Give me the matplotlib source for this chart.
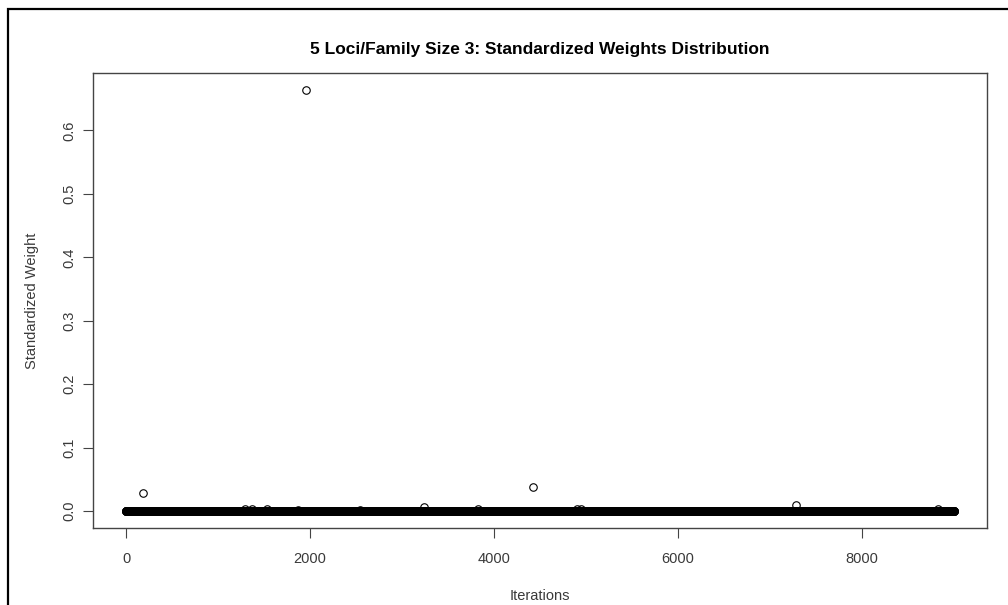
import numpy as np
import matplotlib
matplotlib.use("Agg")
import matplotlib.pyplot as plt
from matplotlib.patches import Rectangle

plt.rcParams['font.family'] = ['Liberation Sans', 'DejaVu Sans']

# iterations 1..9000, almost every standardized weight is ~0
n_iter = 9000
outlier_iter = [190, 1290, 1370, 1530, 1870, 1960, 2540, 3240, 3830,
                4420, 4900, 4950, 7280, 8830]
outlier_weight = [0.029, 0.003, 0.004, 0.003, 0.002, 0.664, 0.002, 0.006,
                  0.003, 0.038, 0.003, 0.004, 0.009, 0.003]

iterations = np.arange(1, n_iter + 1)
weights = np.zeros(n_iter)
weights[np.array(outlier_iter) - 1] = outlier_weight

fig = plt.figure(figsize=(10.08, 6.05), dpi=100)
ax = fig.add_axes([93 / 1008, 77 / 605, 894 / 1008, 455 / 605])

ax.plot(iterations, weights, ls='', marker='o', mfc='none', mec='black',
        ms=5.4, mew=0.8)

span_x = n_iter - 1
ax.set_xlim(1 - 0.04 * span_x, n_iter + 0.04 * span_x)
ymax = max(outlier_weight)
ax.set_ylim(-0.04 * ymax, ymax * 1.04)

ax.set_xticks([0, 2000, 4000, 6000, 8000])
ax.set_yticks([0.0, 0.1, 0.2, 0.3, 0.4, 0.5, 0.6])
ax.set_yticklabels(['0.0', '0.1', '0.2', '0.3', '0.4', '0.5', '0.6'],
                   rotation=90, va='center')
ax.tick_params(axis='both', direction='out', length=7, width=0.8,
               color='#444444', labelsize=10.5, labelcolor='#3a3a3a')
ax.tick_params(axis='x', pad=10)
ax.tick_params(axis='y', pad=5)
for s in ax.spines.values():
    s.set_color('#444444')
    s.set_linewidth(1.0)

ax.set_xlabel('Iterations', fontsize=10.5, color='#3a3a3a', labelpad=17)
ax.set_ylabel('Standardized Weight', fontsize=10.5, color='#3a3a3a', labelpad=17)
ax.set_title('5 Loci/Family Size 3: Standardized Weights Distribution',
             fontsize=12.5, fontweight='bold', pad=14)

# outer frame of the original screenshot
fig.patches.append(Rectangle((8 / 1008, -0.1), 1.2, 1.1 - 9 / 605,
                             transform=fig.transFigure, fill=False,
                             edgecolor='black', linewidth=1.6))

fig.savefig('out.png', dpi=100)
